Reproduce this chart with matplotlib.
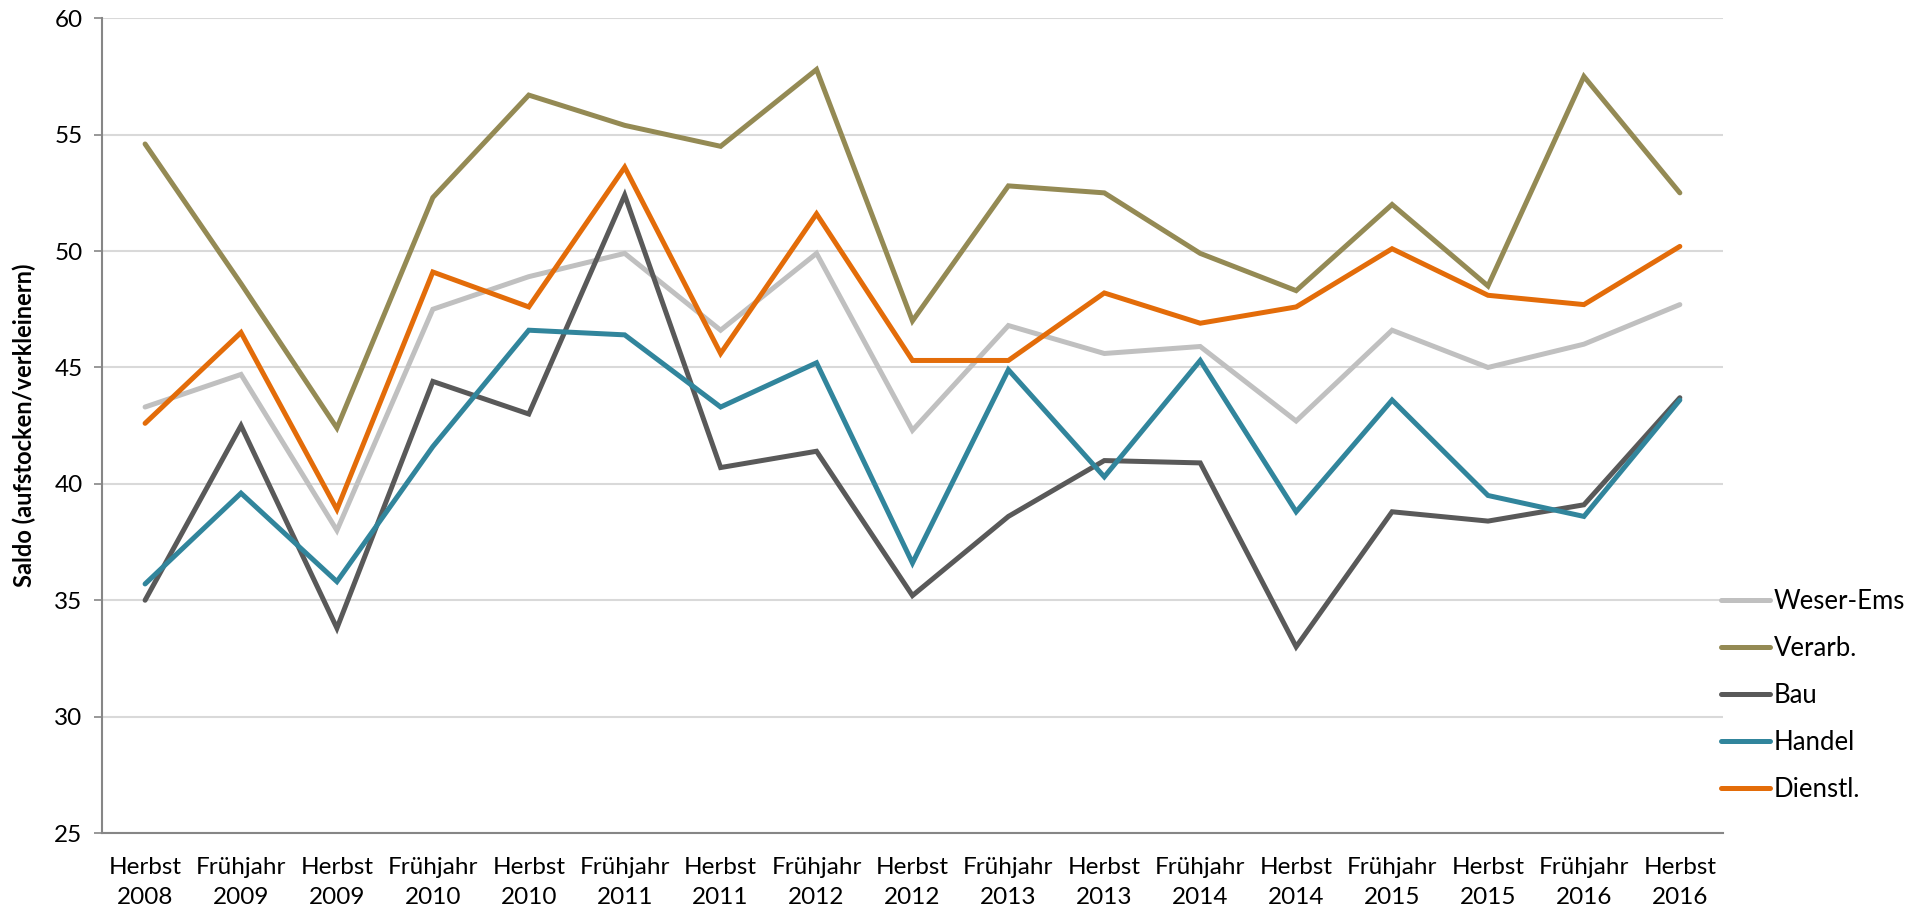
import matplotlib.pyplot as plt

plt.rcParams['font.family'] = ['Lato', 'DejaVu Sans']

# Befragungszeitpunkte
perioden = ['Herbst\n2008', 'Frühjahr\n2009', 'Herbst\n2009', 'Frühjahr\n2010',
            'Herbst\n2010', 'Frühjahr\n2011', 'Herbst\n2011', 'Frühjahr\n2012',
            'Herbst\n2012', 'Frühjahr\n2013', 'Herbst\n2013', 'Frühjahr\n2014',
            'Herbst\n2014', 'Frühjahr\n2015', 'Herbst\n2015', 'Frühjahr\n2016',
            'Herbst\n2016']

# Saldo je Branche
weser_ems = [43.3, 44.7, 38.0, 47.5, 48.9, 49.9, 46.6, 49.9, 42.3, 46.8, 45.6, 45.9,
             42.7, 46.6, 45.0, 46.0, 47.7]
verarb = [54.6, 48.6, 42.4, 52.3, 56.7, 55.4, 54.5, 57.8, 47.0, 52.8, 52.5, 49.9,
          48.3, 52.0, 48.5, 57.5, 52.5]
bau = [35.0, 42.5, 33.8, 44.4, 43.0, 52.4, 40.7, 41.4, 35.2, 38.6, 41.0, 40.9,
       33.0, 38.8, 38.4, 39.1, 43.7]
handel = [35.7, 39.6, 35.8, 41.6, 46.6, 46.4, 43.3, 45.2, 36.6, 44.9, 40.3, 45.3,
          38.8, 43.6, 39.5, 38.6, 43.6]
dienstl = [42.6, 46.5, 38.9, 49.1, 47.6, 53.6, 45.6, 51.6, 45.3, 45.3, 48.2, 46.9,
           47.6, 50.1, 48.1, 47.7, 50.2]

reihen = [
    ('Weser-Ems', weser_ems, '#C0C0C0'),
    ('Verarb.', verarb, '#948A54'),
    ('Bau', bau, '#595959'),
    ('Handel', handel, '#31859C'),
    ('Dienstl.', dienstl, '#E36C09'),
]

fig = plt.figure(figsize=(19.23, 9.14), dpi=100)
ax = fig.add_axes([0.053, 0.0886, 0.843, 0.8914])

x = range(len(perioden))
for name, werte, farbe in reihen:
    ax.plot(x, werte, color=farbe, linewidth=3.6, label=name,
            solid_capstyle='round', solid_joinstyle='miter')

ax.set_ylim(25, 60)
ax.set_yticks(range(25, 61, 5))
ax.set_xlim(-0.45, len(perioden) - 0.55)
ax.set_xticks(list(x))
ax.set_xticklabels(perioden, fontsize=17.5, linespacing=1.55)
ax.tick_params(axis='x', length=0, pad=17)
ax.tick_params(axis='y', labelsize=17.5, length=6, width=1.2, color='#868686', pad=8)

ax.grid(axis='y', color='#D9D9D9', linewidth=1.5)
ax.set_axisbelow(True)
for s in ['top', 'right']:
    ax.spines[s].set_visible(False)
for s in ['left', 'bottom']:
    ax.spines[s].set_color('#868686')
    ax.spines[s].set_linewidth(1.5)

ax.set_ylabel('Saldo (aufstocken/verkleinern)', fontsize=17, fontweight='bold', labelpad=13)

fig.legend(loc='center left', bbox_to_anchor=(0.895, 0.239), frameon=False,
           fontsize=18.5, handlelength=1.9, handletextpad=0.15, labelspacing=0.85,
           borderpad=0, borderaxespad=0)

fig.savefig('out.png', dpi=100)
